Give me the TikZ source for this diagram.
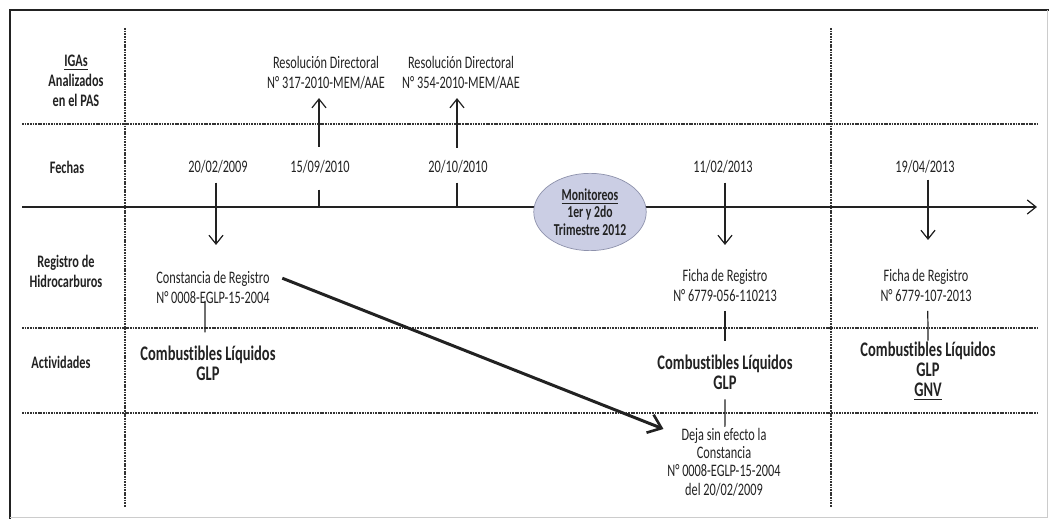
\documentclass[tikz,border=0pt]{standalone}
\usepackage{fontspec}
\setmainfont{Carlito}[FakeStretch=0.7,Ligatures=NoCommon]
\usepackage{tikz}
\usetikzlibrary{arrows.meta,positioning,shapes.geometric}

\definecolor{inkgrey}{HTML}{222222}
\definecolor{monfill}{HTML}{CBCEE4}
\definecolor{mondraw}{HTML}{8E92AC}

\begin{document}
\begin{tikzpicture}[x=0.02cm,y=-0.02cm,
    font=\fontsize{10}{11.4}\selectfont,text=inkgrey,
    txt/.style={align=center,inner sep=1pt},
    hdr/.style={txt,font=\fontsize{10}{11.4}\selectfont\bfseries},
    big txt/.style={txt,font=\fontsize{11.8}{11.4}\selectfont\bfseries},
    sep/.style={line width=0.6pt,dash pattern=on 1pt off 0.5pt,black!80},
    tip/.style={-{Straight Barb[length=5pt,width=8pt]},line width=0.7pt,inkgrey},
    tick/.style={line width=0.7pt,inkgrey},
    big/.style={-{Straight Barb[length=7pt,width=11pt,line width=1.5pt]},line width=1.7pt,inkgrey}]
    \useasboundingbox (0,0) rectangle (1049,519);

    % frame
    \draw[line width=1.3pt,inkgrey] (10,519) -- (10,10) -- (1049,10);
    \draw[black!20] (1047,10) -- (1047,517) -- (10,517);

    % grid
    \draw[sep] (125,28) -- (125,507);
    \draw[sep] (831,28) -- (831,507);
    \draw[sep] (22,124) -- (1039,124);
    \draw[sep] (22,328) -- (1039,328);
    \draw[sep] (22,413) -- (1039,413);

    % row labels
    \node[hdr] (r_iga) at (76,81) {\underline{IGAs}\\Analizados\\en el PAS};
    \node[hdr] (r_fec) at (67,167) {Fechas};
    \node[hdr] (r_reg) at (66,271) {Registro de\\Hidrocarburos};
    \node[hdr] (r_act) at (61,362) {Actividades};

    % time line
    \coordinate (tl_a) at (22,207);
    \coordinate (tl_b) at (1037,207);
    \draw[tip] (tl_a) -- (tl_b);

    % dates
    \node[txt] (d_1) at (218,167) {20/02/2009};
    \node[txt] (d_2) at (320,167) {15/09/2010};
    \node[txt] (d_3) at (458,167) {20/10/2010};
    \node[txt] (d_4) at (723,167) {11/02/2013};
    \node[txt] (d_5) at (925,167) {19/04/2013};

    % resoluciones
    \node[txt] (res_1) at (326,73) {Resolución Directoral\\N° 317-2010-MEM/AAE};
    \node[txt] (res_2) at (461,73) {Resolución Directoral\\N° 354-2010-MEM/AAE};

    % monitoreos
    \node[ellipse,draw=mondraw,fill=monfill,minimum width=64pt,minimum height=44pt,
          inner sep=0pt,align=center,font=\fontsize{9.5}{9.8}\selectfont\bfseries]
          (mon) at (590,212) {\underline{Monitoreos}\\1er y 2do\\Trimestre 2012};

    % registros
    \node[txt] (reg_1) at (213,287) {Constancia de Registro\\N° 0008-EGLP-15-2004};
    \node[txt] (reg_2) at (725,285) {Ficha de Registro\\N° 6779-056-110213};
    \node[txt] (reg_3) at (926,285) {Ficha de Registro\\N° 6779-107-2013};

    % actividades
    \node[big txt] (act_1) at (208,363) {Combustibles Líquidos\\GLP};
    \node[big txt] (act_2) at (725,372) {Combustibles Líquidos\\GLP};
    \node[big txt] (act_3) at (928,371) {Combustibles Líquidos\\GLP\\\underline{GNV}};

    \node[txt,font=\fontsize{10}{10.4}\selectfont] (deja) at (724,462)
          {Deja sin efecto la\\Constancia\\N° 0008-EGLP-15-2004\\del 20/02/2009};

    % arrow ends
    \coordinate (e_1) at (216,245);
    \coordinate (e_4) at (725,245);
    \coordinate (e_5) at (928,240);
    \coordinate (u_2) at (319,147);
    \coordinate (u_3) at (457,148);
    \coordinate (k_2) at (319,207);
    \coordinate (k_3) at (457,207);

    \path[tip]
    (d_1.south -| e_1) edge[shorten <=4pt] (e_1)
    (d_4.south -| e_4) edge[shorten <=4pt] (e_4)
    (d_5.south -| e_5) edge[shorten <=2.3pt] (e_5)
    (u_2) edge[shorten >=3.7pt] (res_1.south -| u_2)
    (u_3) edge[shorten >=3.7pt] (res_2.south -| u_3)
    ;
    \path[tick]
    ([xshift=-4.5pt]reg_1.south) edge[shorten <=-2.5pt,shorten >=6.3pt] ([xshift=-1.7pt]act_1.north)
    (reg_2.south) edge[shorten <=4.3pt,shorten >=6.8pt] (act_2.north)
    ([xshift=1pt]reg_3.south) edge[shorten <=4.3pt,shorten >=-0.5pt] (act_3.north)
    (act_2.south) edge[shorten <=4.5pt,shorten >=-0.5pt] ([xshift=0.5pt]deja.north)
    (d_2.south -| k_2) edge[shorten <=8pt] (k_2)
    (d_3.south -| k_3) edge[shorten <=4pt] (k_3)
    ;

    % deja sin efecto
    \draw[big] ([xshift=6pt,yshift=5pt]reg_1.east) -- ([xshift=-1pt,yshift=-1.7pt]deja.north west);
\end{tikzpicture}
\end{document}
